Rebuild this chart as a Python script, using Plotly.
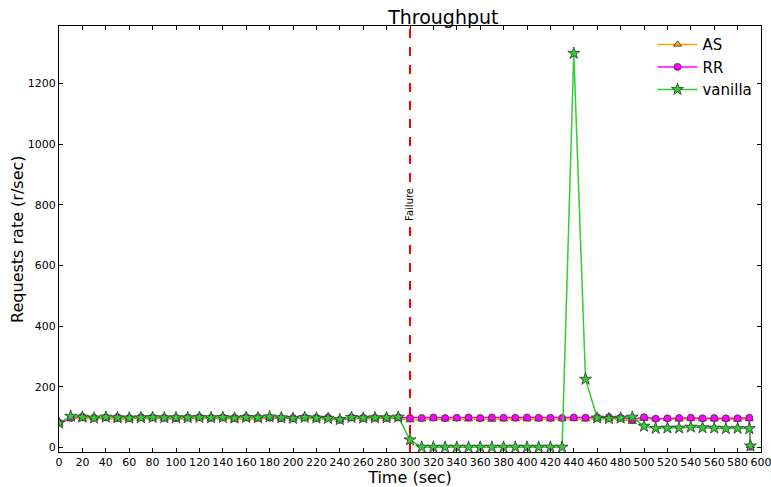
import plotly.graph_objects as go

time = [0, 10, 20, 30, 40, 50, 60, 70, 80, 90, 100, 110, 120, 130, 140, 150, 160, 170, 180, 190,
        200, 210, 220, 230, 240, 250, 260, 270, 280, 290, 300, 310, 320, 330, 340, 350, 360, 370, 380, 390,
        400, 410, 420, 430, 440, 450, 460, 470, 480, 490, 500, 510, 520, 530, 540, 550, 560, 570, 580, 590, 591]

as_vals = [78, 97, 94, 96, 96, 92, 94, 95, 96, 95, 93, 95, 96, 95, 96, 92, 94, 93, 97, 95,
           95, 96, 93, 95, 90, 96, 94, 95, 95, 96, 90, 93, 94, 93, 94, 93, 93, 92, 93, 94,
           93, 93, 93, 94, 94, 93, 94, 93, 94, 85, 95, 93, 94, 93, 94, 94, 93, 93, 92, 94, 5]

rr_vals = [82, 97, 101, 98, 99, 100, 97, 100, 99, 98, 97, 99, 100, 98, 99, 98, 100, 99, 98, 97,
           97, 99, 98, 99, 91, 99, 98, 98, 97, 99, 97, 97, 99, 97, 98, 99, 97, 99, 98, 98,
           99, 98, 98, 97, 99, 98, 99, 100, 98, 92, 100, 95, 96, 97, 98, 96, 97, 96, 96, 98, 2]

vanilla_vals = [80, 103, 100, 97, 100, 98, 97, 98, 99, 98, 98, 98, 99, 98, 99, 97, 99, 98, 101, 98,
                96, 99, 97, 96, 92, 99, 97, 98, 98, 100, 25, 1, 1, 1, 1, 1, 1, 1, 1, 1,
                1, 1, 1, 1, 1300, 225, 97, 95, 97, 100, 70, 63, 64, 64, 67, 65, 64, 62, 63, 62, 5]

failure_time = 300

fig = go.Figure()
fig.add_trace(go.Scatter(x=time, y=as_vals, name="AS", mode="lines+markers",
                         line=dict(color="#FFA500", width=1.5),
                         marker=dict(symbol="triangle-up", size=7, color="#FFA500",
                                     line=dict(color="#333333", width=0.8))))
fig.add_trace(go.Scatter(x=time, y=rr_vals, name="RR", mode="lines+markers",
                         line=dict(color="#FF00FF", width=1.5),
                         marker=dict(symbol="circle", size=7, color="#FF00FF",
                                     line=dict(color="#333333", width=0.8))))
fig.add_trace(go.Scatter(x=time, y=vanilla_vals, name="vanilla", mode="lines+markers",
                         line=dict(color="#32CD32", width=1.5),
                         marker=dict(symbol="star", size=9, color="#32CD32",
                                     line=dict(color="#333333", width=0.8))))

fig.add_shape(type="line", x0=failure_time, x1=failure_time, y0=0, y1=1, yref="paper",
              line=dict(color="red", width=2, dash="dash"))
fig.add_annotation(x=failure_time, y=800, text="Failure", textangle=-90, showarrow=False,
                   font=dict(size=10, color="black", family="DejaVu Sans"),
                   bgcolor="white")
fig.add_annotation(x=-0.06, y=0.5, xref="paper", yref="paper", xanchor="center", yanchor="middle",
                   text="Requests rate (r/sec)", textangle=-90, showarrow=False,
                   font=dict(size=16, color="black", family="DejaVu Sans"))

fig.update_layout(
    width=771, height=487,
    margin=dict(l=59, r=10, t=26, b=35, autoexpand=False),
    paper_bgcolor="white", plot_bgcolor="white",
    font=dict(family="DejaVu Sans", color="black"),
    title=dict(text="Throughput", x=0.575, xanchor="center", y=0.965, yanchor="middle",
               font=dict(size=19)),
    showlegend=True,
    legend=dict(x=0.995, y=0.995, xanchor="right", yanchor="top", bgcolor="rgba(0,0,0,0)",
                font=dict(size=15), tracegroupgap=0, itemwidth=40),
)
fig.update_xaxes(range=[0, 600], tickmode="linear", tick0=0, dtick=20, tickangle=0,
                 automargin=False, ticklabeloverflow="allow",
                 showline=True, linecolor="black", linewidth=1, mirror="allticks",
                 ticks="inside", ticklen=4, tickcolor="black", showgrid=False, zeroline=False,
                 tickfont=dict(size=11),
                 title=dict(text="Time (sec)", font=dict(size=16), standoff=0))
fig.update_yaxes(range=[-15, 1390], tickmode="linear", tick0=0, dtick=200,
                 automargin=False, ticklabeloverflow="allow",
                 showline=True, linecolor="black", linewidth=1, mirror="allticks",
                 ticks="inside", ticklen=4, tickcolor="black", showgrid=False, zeroline=False,
                 tickfont=dict(size=11))

fig.write_html("out.html", config={"displayModeBar": False},
               post_script="document.body.style.margin='0px'; document.body.style.padding='0px';")
